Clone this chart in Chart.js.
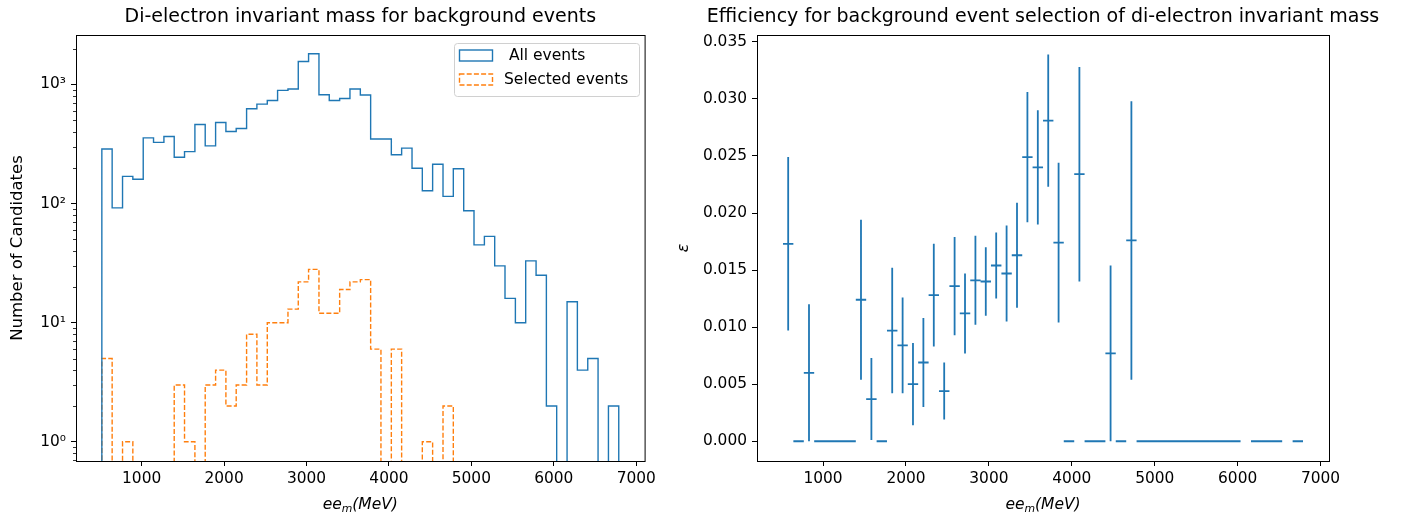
<!DOCTYPE html>
<html>
<head>
<meta charset="utf-8">
<script src="https://cdn.jsdelivr.net/npm/chart.js@4.4.1/dist/chart.umd.min.js"></script>
<style>
  html, body { margin: 0; padding: 0; background: #fff; }
  #wrap { position: relative; width: 1402px; height: 515px; }
  #histChart { position: absolute; left: 0; top: 0; }
  #effChart { position: absolute; left: 660px; top: 0; }
</style>
</head>
<body>
<div id="wrap">
  <canvas id="histChart" width="660" height="515"></canvas>
  <canvas id="effChart" width="742" height="515"></canvas>
</div>
<script>
// bin edges of the di-electron mass histogram (MeV)
const binEdges = [517, 642, 768, 893, 1019, 1144, 1270, 1395, 1520, 1646, 1771, 1897, 2022, 2147,
  2273, 2398, 2524, 2649, 2775, 2900, 3025, 3151, 3276, 3402, 3527, 3653, 3778, 3903, 4029, 4154,
  4280, 4405, 4530, 4656, 4781, 4907, 5032, 5158, 5283, 5408, 5534, 5659, 5785, 5910, 6035, 6161,
  6286, 6412, 6537, 6663, 6788];

// counts per bin
const allEvents = [287, 92, 169, 160, 356, 326, 366, 245, 273, 461, 305, 479, 403, 427, 625, 684,
  734, 891, 915, 1560, 1811, 819, 734, 763, 915, 815, 348, 348, 257, 292, 198, 128, 214, 115, 196,
  87, 45, 53, 30, 16, 10, 33, 25, 2, 0, 15, 4, 5, 0, 2];
const selEvents = [5, 0, 1, 0, 0, 0, 0, 3, 1, 0, 3, 4, 2, 3, 8, 3, 10, 10, 13, 22, 28, 12, 12, 19,
  22, 23, 6, 0, 6, 0, 0, 1, 0, 2, 0, 0, 0, 0, 0, 0, 0, 0, 0, 0, 0, 0, 0, 0, 0, 0];

// efficiency per bin and its error (null = empty bin)
const efficiency = [0.0173, 0, 0.0060, 0, 0, 0, 0, 0.0124, 0.0037, 0, 0.0097, 0.0084, 0.0050,
  0.0069, 0.0128, 0.0044, 0.0136, 0.0112, 0.0141, 0.0140, 0.0154, 0.0147, 0.0163, 0.0249, 0.0240,
  0.0281, 0.0174, 0, 0.0234, 0, 0, 0.0077, 0, 0.0176, 0, 0, 0, 0, 0, 0, 0, 0, 0, 0, null, 0, 0, 0,
  null, 0];
const effError = [0.0076, 0, 0.0060, 0, 0, 0, 0, 0.0070, 0.0036, 0, 0.0055, 0.0042, 0.0036, 0.0039,
  0.0045, 0.0025, 0.0043, 0.0035, 0.0039, 0.0030, 0.0029, 0.0042, 0.0046, 0.0057, 0.0050, 0.0058,
  0.0070, 0, 0.0094, 0, 0, 0.0077, 0, 0.0122, 0, 0, 0, 0, 0, 0, 0, 0, 0, 0, null, 0, 0, 0, null, 0];

// axis ticks
const xTicks = [1000, 2000, 3000, 4000, 5000, 6000, 7000];
const logMajorTicks = [1, 10, 100, 1000];
const logMajorLabels = { 1: '10\u2070', 10: '10\u00b9', 100: '10\u00b2', 1000: '10\u00b3' };
const logMinorTicks = [0.7, 0.8, 0.9, 2, 3, 4, 5, 6, 7, 8, 9, 20, 30, 40, 50, 60, 70, 80, 90,
  200, 300, 400, 500, 600, 700, 800, 900, 2000];
const effTicks = [0, 0.005, 0.01, 0.015, 0.02, 0.025, 0.03, 0.035];

const blue = '#1f77b4';
const orange = '#ff7f0e';
const FONT = "'DejaVu Sans'";
const xMin = 203.45, xMax = 7101.55;
const logMin = 0.69, logMax = 2600;
const logFloor = 0.1; // empty bins drop below the axis

Chart.defaults.font.family = FONT;
Chart.defaults.color = '#000';

// outline of a step histogram
function stepPoints(counts) {
  const pts = [{ x: binEdges[0], y: logFloor }];
  counts.forEach((c, i) => pts.push({ x: binEdges[i], y: c > 0 ? c : logFloor }));
  const last = counts[counts.length - 1];
  pts.push({ x: binEdges[binEdges.length - 1], y: last > 0 ? last : logFloor });
  pts.push({ x: binEdges[binEdges.length - 1], y: logFloor });
  return pts;
}

function drawMathLabel(ctx, cx, baseY, size) {
  const parts = [
    { t: 'ee', f: `italic ${size}px ${FONT}`, dy: 0 },
    { t: 'm', f: `italic ${size * 0.7}px ${FONT}`, dy: size * 0.22 },
    { t: '(MeV)', f: `italic ${size}px ${FONT}`, dy: 0 }
  ];
  let w = 0;
  parts.forEach(p => { ctx.font = p.f; p.w = ctx.measureText(p.t).width; w += p.w; });
  let x = cx - w / 2;
  ctx.textAlign = 'left';
  ctx.textBaseline = 'alphabetic';
  parts.forEach(p => { ctx.font = p.f; ctx.fillText(p.t, x, baseY + p.dy); x += p.w; });
}

// frame, titles, axis labels, minor ticks, legend
const decor = {
  id: 'decor',
  afterDraw(chart, args, opts) {
    const { ctx, chartArea: a } = chart;
    ctx.save();
    ctx.fillStyle = '#000';
    ctx.strokeStyle = '#000';
    ctx.lineWidth = 1;
    ctx.strokeRect(a.left + 0.5, a.top + 0.5, a.right - a.left, a.bottom - a.top);

    if (opts.minorTicks) {
      const ys = chart.scales.y;
      ctx.lineWidth = 0.8;
      opts.minorTicks.forEach(v => {
        const py = Math.round(ys.getPixelForValue(v)) + 0.5;
        ctx.beginPath();
        ctx.moveTo(a.left - 3, py);
        ctx.lineTo(a.left, py);
        ctx.stroke();
      });
    }

    ctx.font = `19px ${FONT}`;
    ctx.textAlign = 'center';
    ctx.textBaseline = 'alphabetic';
    ctx.fillText(opts.title, (a.left + a.right) / 2, 22);

    drawMathLabel(ctx, (a.left + a.right) / 2, 509, 15.5);

    ctx.save();
    ctx.translate(opts.yLabelX, (a.top + a.bottom) / 2);
    ctx.rotate(-Math.PI / 2);
    ctx.font = opts.yLabelFont;
    ctx.textAlign = 'center';
    ctx.textBaseline = 'middle';
    ctx.fillText(opts.yLabel, 0, 0);
    ctx.restore();

    if (opts.legend) {
      const L = opts.legend;
      ctx.beginPath();
      ctx.roundRect(L.x + 0.5, L.y + 0.5, L.w, L.h, 3);
      ctx.fillStyle = 'rgba(255,255,255,0.8)';
      ctx.fill();
      ctx.strokeStyle = '#d0d0d0';
      ctx.lineWidth = 1;
      ctx.stroke();
      chart.data.datasets.forEach((ds, i) => {
        const cy = L.y + 12.5 + i * 24;
        ctx.strokeStyle = ds.borderColor;
        ctx.lineWidth = ds.borderWidth;
        ctx.setLineDash(ds.borderDash || []);
        ctx.strokeRect(L.x + 5.5, cy - 5.5, 33, 11);
        ctx.setLineDash([]);
        ctx.fillStyle = '#000';
        ctx.font = `15.5px ${FONT}`;
        ctx.textAlign = 'left';
        ctx.textBaseline = 'middle';
        ctx.fillText(ds.label, L.x + 50, cy);
      });
    }
    ctx.restore();
  }
};

const tickFont = { size: 15.4 };
const axisGrid = { drawOnChartArea: false, drawTicks: true, tickLength: 5, color: '#000', lineWidth: 1 };

new Chart(document.getElementById('histChart'), {
  type: 'line',
  data: {
    datasets: [
      { label: ' All events', data: stepPoints(allEvents), borderColor: blue, borderWidth: 1.4,
        stepped: true, pointRadius: 0, fill: false },
      { label: 'Selected events', data: stepPoints(selEvents), borderColor: orange, borderWidth: 1.4,
        borderDash: [5, 2.2], stepped: true, pointRadius: 0, fill: false }
    ]
  },
  options: {
    responsive: false,
    animation: false,
    devicePixelRatio: 1,
    layout: { padding: { top: 35, right: 13, bottom: 0, left: 0 } },
    plugins: {
      legend: { display: false },
      tooltip: { enabled: false },
      decor: {
        title: 'Di-electron invariant mass for background events',
        yLabel: 'Number of Candidates',
        yLabelX: 18,
        yLabelFont: `16.5px ${FONT}`,
        minorTicks: logMinorTicks,
        legend: { x: 454, y: 43, w: 185, h: 53 }
      }
    },
    scales: {
      x: {
        type: 'linear', min: xMin, max: xMax,
        afterFit: s => { s.height = 54; },
        afterBuildTicks: s => { s.ticks = xTicks.map(v => ({ value: v })); },
        ticks: { callback: v => String(v), font: tickFont, padding: 4, maxRotation: 0, autoSkip: false },
        grid: axisGrid,
        border: { display: false }
      },
      y: {
        type: 'logarithmic', min: logMin, max: logMax,
        afterFit: s => { s.width = 76; },
        afterBuildTicks: s => { s.ticks = logMajorTicks.map(v => ({ value: v })); },
        ticks: { callback: v => logMajorLabels[v] || '', font: tickFont, padding: 5, autoSkip: false },
        grid: axisGrid,
        border: { display: false }
      }
    }
  },
  plugins: [decor]
});

// error bars as line segments
const hBars = [], vBars = [];
efficiency.forEach((eff, i) => {
  if (eff === null) return;
  const c = (binEdges[i] + binEdges[i + 1]) / 2;
  hBars.push({ x: binEdges[i], y: eff }, { x: binEdges[i + 1], y: eff }, { x: c, y: null });
  if (effError[i] > 0) {
    vBars.push({ x: c, y: eff - effError[i] }, { x: c, y: eff + effError[i] }, { x: c, y: null });
  }
});

new Chart(document.getElementById('effChart'), {
  type: 'line',
  data: {
    datasets: [
      { label: 'xerr', data: hBars, borderColor: blue, borderWidth: 1.8, pointRadius: 0,
        fill: false, spanGaps: false, borderCapStyle: 'butt' },
      { label: 'yerr', data: vBars, borderColor: blue, borderWidth: 1.8, pointRadius: 0,
        fill: false, spanGaps: false, borderCapStyle: 'butt' }
    ]
  },
  options: {
    responsive: false,
    animation: false,
    devicePixelRatio: 1,
    layout: { padding: { top: 35, right: 73, bottom: 0, left: 0 } },
    plugins: {
      legend: { display: false },
      tooltip: { enabled: false },
      decor: {
        title: 'Efficiency for background event selection of di-electron invariant mass',
        yLabel: '\u03b5',
        yLabelX: 24,
        yLabelFont: `italic 16px ${FONT}`
      }
    },
    scales: {
      x: {
        type: 'linear', min: xMin, max: xMax,
        afterFit: s => { s.height = 54; },
        afterBuildTicks: s => { s.ticks = xTicks.map(v => ({ value: v })); },
        ticks: { callback: v => String(v), font: tickFont, padding: 4, maxRotation: 0, autoSkip: false },
        grid: axisGrid,
        border: { display: false }
      },
      y: {
        type: 'linear', min: -0.00173, max: 0.0356,
        afterFit: s => { s.width = 97; },
        afterBuildTicks: s => { s.ticks = effTicks.map(v => ({ value: v })); },
        ticks: { callback: v => v.toFixed(3), font: tickFont, padding: 5, autoSkip: false },
        grid: axisGrid,
        border: { display: false }
      }
    }
  },
  plugins: [decor]
});
</script>
</body>
</html>
